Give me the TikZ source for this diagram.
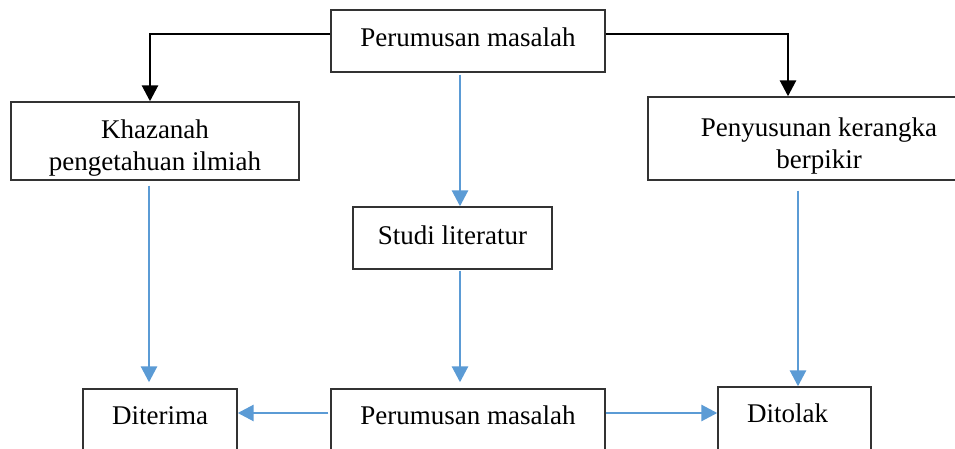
\documentclass[tikz,border=0pt]{standalone}
\usepackage{fontspec}
\setmainfont{Liberation Serif}
\usetikzlibrary{arrows.meta}
\definecolor{bluearr}{RGB}{91,155,213}
\newcommand{\twolines}[2]{\begin{tabular}{@{}c@{}}#1\\#2\end{tabular}}
\newcommand{\vshift}[2]{\raisebox{#1}[\height][\depth]{#2}}
\begin{document}
\begin{tikzpicture}[x=1pt,y=-1pt,
  box/.style={draw=black!80,line width=1.4pt,inner sep=0pt,align=center,
    font=\fontsize{27}{32}\selectfont},
  blk/.style={line width=1.5pt,black},
  blkarr/.style={line width=2.8pt,black,-{Triangle[length=16pt,width=16pt]}},
  bluarr/.style={line width=2.8pt,bluearr,-{Triangle[length=16pt,width=16pt]}}]
\useasboundingbox (0,0) rectangle (955,449);
\clip (0,0) rectangle (955,449);
\fill[white] (0,0) rectangle (955,449);
\node[box,minimum width=274pt,minimum height=62pt] (top) at (468,41) {\vshift{4pt}{Perumusan masalah}};
\node[box,minimum width=288pt,minimum height=78pt] (khaz) at (155,141) {\vshift{-7pt}{\twolines{Khazanah}{pengetahuan ilmiah}}};
\node[box,minimum width=342pt,minimum height=83pt] (peny) at (819,138.5) {\vshift{-8pt}{\twolines{Penyusunan kerangka}{berpikir}}};
\node[box,minimum width=199pt,minimum height=62pt] (studi) at (452.5,238) {\vshift{3pt}{Studi literatur}};
\node[box,minimum width=274pt,minimum height=63pt] (bot) at (468,420.5) {\vshift{5pt}{Perumusan masalah}};
\node[box,minimum width=154pt,minimum height=63pt] (dit) at (160,420.5) {\vshift{5pt}{Diterima}};
\node[box,minimum width=153pt,minimum height=65pt] (tol) at (794.5,419.5) {\vshift{6pt}{\hspace*{-14pt}Ditolak}};
% black connectors
\coordinate (tl) at (150,34);
\coordinate (tr) at (788,34);
\draw[blk] (top.west |- tl) -- (tl);
\draw[blkarr] ([yshift=0.75pt]tl) -- (tl |- khaz.north);
\draw[blk] (top.east |- tr) -- (tr);
\draw[blkarr] ([yshift=0.75pt]tr) -- (tr |- peny.north);
% blue connectors
\coordinate (cx) at (460,0);
\coordinate (kx) at (149,0);
\coordinate (px) at (798,0);
\draw[bluarr,shorten <=2pt] (top.south -| cx) -- (studi.north -| cx);
\draw[bluarr,shorten <=1pt,shorten >=6pt] (studi.south -| cx) -- (bot.north -| cx);
\draw[bluarr,shorten <=5pt,shorten >=6pt] (khaz.south -| kx) -- (dit.north -| kx);
\draw[bluarr,shorten <=10pt] (peny.south -| px) -- (tol.north -| px);
\coordinate (hy) at (0,413);
\draw[bluarr,shorten <=2pt] (bot.west |- hy) -- (dit.east |- hy);
\draw[bluarr] (bot.east |- hy) -- (tol.west |- hy);
\end{tikzpicture}
\end{document}
